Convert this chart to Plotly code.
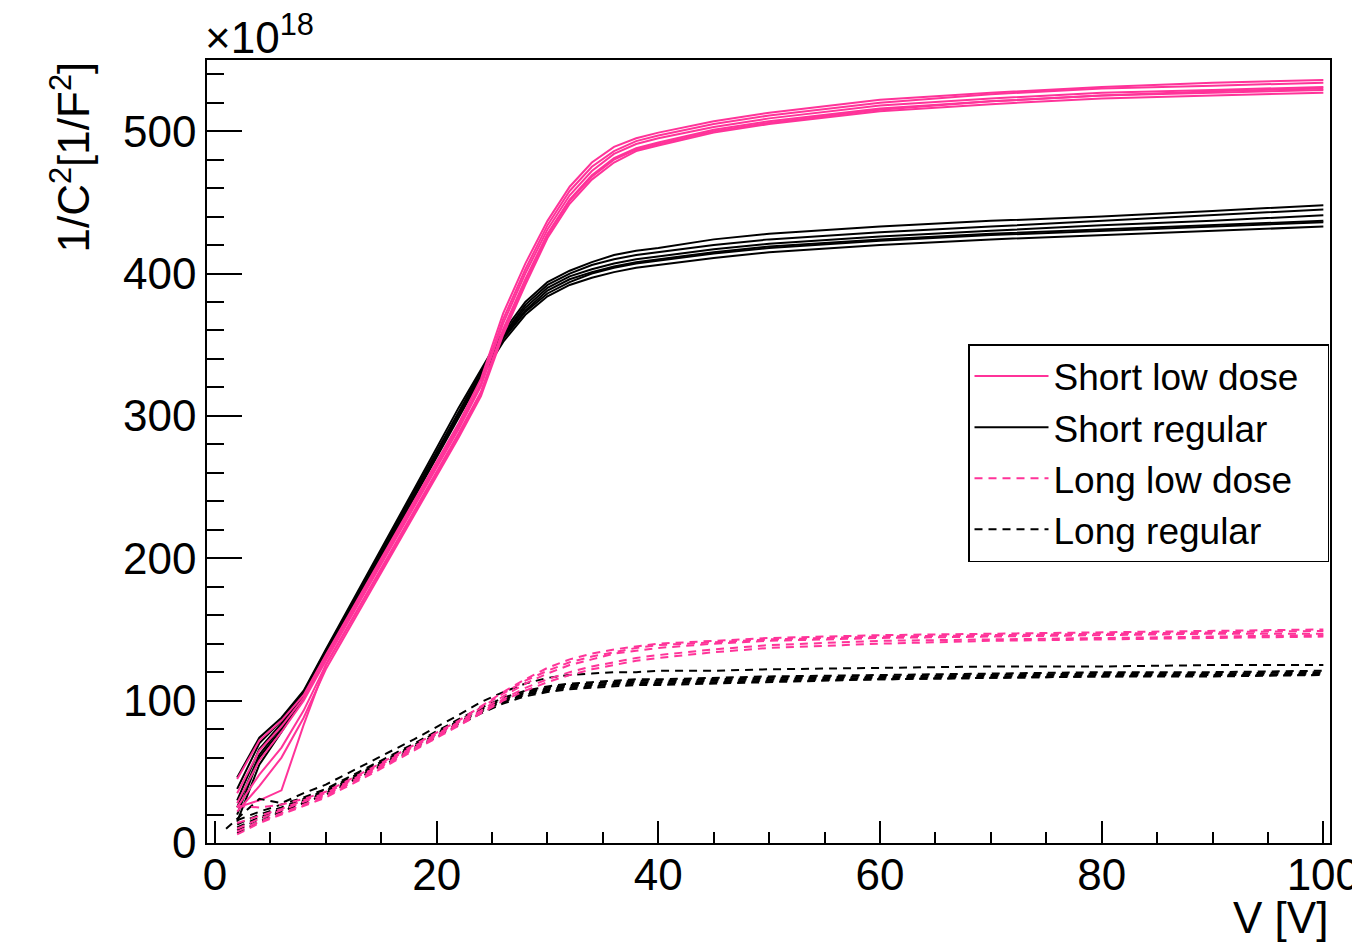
import plotly.graph_objects as go

# Voltage points [V]
V = [2, 4, 6, 8, 10, 14, 18, 22, 24, 26, 28, 30, 32, 34, 36, 38, 40, 45, 50, 60, 70, 80, 90, 100]
V_first = [1, 4, 6, 8, 10, 14, 18, 22, 24, 26, 28, 30, 32, 34, 36, 38, 40, 45, 50, 60, 70, 80, 90, 100]

# 1/C^2 values in units of 1e18 F^-2
short_low_dose = [
    [45, 72, 86, 104, 132, 186, 240, 295, 326, 372, 407, 437, 461, 478, 489, 495, 499, 507, 513, 522, 527, 531, 534, 536],
    [35, 65, 82, 102, 130, 184, 238, 293, 323, 368, 403, 434, 458, 475, 486, 493, 497, 505, 511, 520, 526, 530, 532, 534],
    [28, 58, 78, 100, 128, 182, 236, 291, 321, 365, 400, 431, 455, 472, 484, 491, 495, 503, 509, 518, 523, 527, 529, 531],
    [25, 48, 67, 93, 125, 179, 233, 288, 317, 361, 396, 428, 452, 469, 481, 488, 492, 501, 507, 516, 521, 525, 527, 529],
    [22, 40, 60, 88, 122, 176, 230, 285, 314, 357, 392, 425, 449, 466, 478, 486, 490, 499, 505, 514, 519, 523, 525, 527],
    [25, 30, 37, 83, 125, 178, 232, 287, 316, 359, 394, 427, 451, 468, 480, 487, 491, 500, 506, 515, 521, 525, 528, 530],
]
short_regular = [
    [46, 74, 88, 107, 136, 192, 249, 306, 333, 359, 380, 394, 402, 408, 413, 416, 418, 424, 428, 433, 437, 440, 444, 448],
    [38, 70, 86, 106, 135, 191, 247, 304, 331, 357, 378, 392, 400, 406, 410, 413, 415, 420, 424, 429, 433, 437, 441, 445],
    [30, 66, 84, 105, 134, 190, 246, 303, 330, 356, 376, 390, 398, 403, 407, 410, 412, 417, 421, 426, 430, 434, 437, 441],
    [25, 62, 82, 104, 133, 189, 245, 302, 329, 355, 374, 388, 396, 401, 405, 408, 410, 415, 419, 424, 428, 431, 434, 437],
    [20, 60, 80, 103, 132, 188, 244, 301, 328, 354, 373, 386, 394, 400, 404, 407, 409, 414, 418, 423, 427, 430, 433, 436],
    [15, 55, 78, 102, 131, 187, 243, 300, 327, 352, 371, 384, 392, 397, 401, 404, 406, 411, 415, 420, 424, 427, 430, 433],
]
long_low_dose = [
    [26, 25, 27, 31, 36, 52, 69, 86, 96, 106, 115, 123, 129, 133, 136, 138, 140, 142, 144, 146, 147, 148, 149, 150],
    [14, 19, 24, 30, 35, 51, 68, 85, 95, 105, 114, 121, 127, 131, 134, 137, 139, 141, 143, 145, 146, 147, 148, 149],
    [10, 17, 23, 29, 34, 50, 67, 84, 93, 103, 112, 119, 125, 129, 133, 135, 137, 140, 142, 144, 145, 146, 147, 147],
    [8, 15, 21, 27, 33, 49, 66, 83, 92, 101, 109, 115, 120, 124, 127, 130, 132, 136, 139, 142, 143, 144, 145, 146],
    [6, 14, 20, 26, 32, 48, 65, 82, 91, 100, 107, 113, 118, 122, 125, 128, 130, 134, 137, 140, 142, 143, 144, 145],
]
long_regular = [
    [10, 31, 28, 35, 41, 57, 73, 90, 99, 106, 112, 116, 118, 119, 120, 120, 121, 121, 122, 123, 124, 124, 125, 125],
    [16, 22, 27, 32, 38, 54, 70, 87, 95, 102, 107, 110, 112, 113, 114, 115, 115, 116, 117, 118, 119, 120, 120, 121],
    [13, 20, 25, 31, 37, 53, 69, 86, 94, 101, 106, 109, 111, 112, 113, 114, 114, 115, 116, 117, 118, 119, 119, 120],
    [11, 18, 24, 30, 36, 52, 68, 85, 93, 100, 105, 108, 110, 111, 112, 113, 113, 114, 115, 116, 117, 118, 118, 119],
    [9, 17, 23, 29, 35, 51, 67, 84, 92, 99, 104, 107, 109, 110, 111, 112, 112, 113, 114, 115, 116, 117, 118, 118],
    [7, 15, 22, 28, 34, 50, 66, 83, 91, 98, 103, 106, 108, 109, 110, 111, 111, 112, 113, 115, 116, 117, 117, 118],
]
long_regular_x = [V_first, V, V, V, V, V]

PINK = "#ff3399"
BLACK = "#000000"
DASH = "8px,6px"
FONT = "Liberation Sans, Arial, Helvetica, sans-serif"
PAD = "\u00a0\u00a0\u200a"  # keeps the legend box as wide as in the reference

fig = go.Figure()

groups = [
    ("Short regular", short_regular, [V] * len(short_regular), BLACK, "solid", 2),
    ("Short low dose" + PAD, short_low_dose, [V] * len(short_low_dose), PINK, "solid", 1),
    ("Long regular", long_regular, long_regular_x, BLACK, DASH, 4),
    ("Long low dose", long_low_dose, [V] * len(long_low_dose), PINK, DASH, 3),
]
for name, curves, xs, color, dash, rank in groups:
    for i, (xv, yv) in enumerate(zip(xs, curves)):
        fig.add_trace(go.Scatter(
            x=xv, y=yv, mode="lines", name=name, legendgroup=name,
            showlegend=(i == 0), legendrank=rank,
            line=dict(color=color, width=2, dash=dash),
        ))

L, R, T, B = 207, 22, 60, 103
W, H = 1352, 946
pw, ph = W - L - R, H - T - B

def px2x(px):
    return (px - L) / pw

def py2y(py):
    return (H - B - py) / ph

fig.update_layout(
    width=W, height=H,
    margin=dict(l=L, r=R, t=T, b=B, autoexpand=False),
    paper_bgcolor="white", plot_bgcolor="white",
    font=dict(family=FONT, color="black", size=44),
    xaxis=dict(
        range=[-0.72, 100.6], tickvals=[0, 20, 40, 60, 80, 100],
        ticks="inside", ticklen=22, tickwidth=1.5, tickcolor="black",
        minor=dict(dtick=5, tick0=0, ticks="inside", ticklen=11, tickwidth=1.5, tickcolor="black"),
        showline=True, linecolor="black", linewidth=1.5, mirror=True,
        showgrid=False, zeroline=False, tickfont=dict(size=44), ticklabelstandoff=-8,
        ticklabeloverflow="allow", automargin=False,
    ),
    yaxis=dict(
        range=[0, 550], tickvals=[0, 100, 200, 300, 400, 500],
        ticks="inside", ticklen=35, tickwidth=1.5, tickcolor="black",
        minor=dict(dtick=20, tick0=0, ticks="inside", ticklen=17, tickwidth=1.5, tickcolor="black"),
        showline=True, linecolor="black", linewidth=1.5, mirror=True,
        showgrid=False, zeroline=False, tickfont=dict(size=44), ticklabelstandoff=0,
        automargin=False,
    ),
    legend=dict(
        x=px2x(968), y=py2y(344), xanchor="left", yanchor="top",
        bordercolor="black", borderwidth=1.5, bgcolor="white",
        font=dict(size=37, family=FONT), tracegroupgap=0, itemwidth=74,
    ),
    annotations=[
        dict(text="×10<sup>18</sup>", xref="paper", yref="paper",
             x=px2x(203), y=py2y(64), xanchor="left", yanchor="bottom",
             showarrow=False, font=dict(size=44)),
        dict(text="1/C<sup>2</sup>[1/F<sup>2</sup>]", xref="paper", yref="paper",
             x=px2x(70), y=1.0, xanchor="center", yanchor="top", textangle=-90,
             showarrow=False, font=dict(size=44)),
        dict(text="V [V]", xref="paper", yref="paper",
             x=1.0, y=py2y(918), xanchor="right", yanchor="middle",
             showarrow=False, font=dict(size=44)),
    ],
)

fig.write_html("out.html", config={"displayModeBar": False},
               post_script="document.body.style.margin='0px';")
